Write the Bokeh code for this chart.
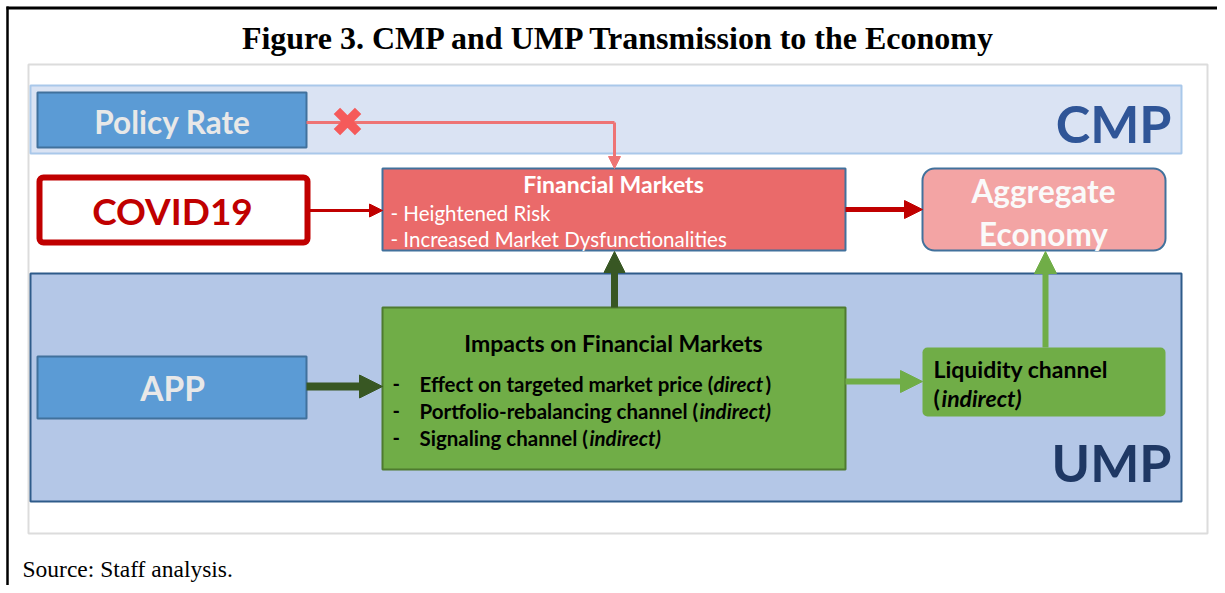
from bokeh.plotting import figure
from bokeh.models import Range1d, Arrow, NormalHead
from bokeh.core.properties import value
from bokeh.embed import file_html
from bokeh.resources import INLINE

# ---- content -------------------------------------------------------------
title = "Figure 3. CMP and UMP Transmission to the Economy"
source_note = "Source: Staff analysis."
band_labels = ["CMP", "UMP"]
box_labels = ["Policy Rate", "COVID19", "APP"]
fm_header = "Financial Markets"
fm_lines = ["- Heightened Risk", "- Increased Market Dysfunctionalities"]
agg_lines = ["Aggregate", "Economy"]
imp_header = "Impacts on Financial Markets"
imp_plain = ["Effect on targeted market price (", "Portfolio-rebalancing channel (", "Signaling channel ("]
imp_italic = ["direct", "indirect)", "indirect)"]
imp_tail = [")", "", ""]
liq_lines = ["Liquidity channel", "("]
liq_italic = ["indirect)"]

FONT = value("Lato")
SERIF = value("Liberation Serif")

p = figure(width=1217, height=585, x_range=Range1d(0, 1217), y_range=Range1d(585, 0),
           output_backend="svg", toolbar_location=None, min_border=0,
           x_axis_location=None, y_axis_location=None)
p.grid.visible = False
p.outline_line_color = None
p.background_fill_color = "white"
p.border_fill_color = "white"

# outer frame
p.segment(x0=[6], y0=[7.5], x1=[1217], y1=[7.5], line_color="black", line_width=3)
p.segment(x0=[7], y0=[6], x1=[7], y1=[585], line_color="black", line_width=2.5)

# light gray panel
p.quad(left=[28], right=[1207], top=[64], bottom=[533], fill_color="white",
       line_color="#dcdcdc", line_width=2)

# bands
p.quad(left=[30], right=[1181], top=[85], bottom=[153], fill_color="#dae3f3",
       line_color="#a9c8ea", line_width=2)
p.quad(left=[30], right=[1181], top=[273], bottom=[501], fill_color="#b4c7e7",
       line_color="#2e5b8a", line_width=2)

# blue boxes
p.quad(left=[37, 37], right=[306, 306], top=[92, 356], bottom=[147, 418],
       fill_color="#5b9bd5", line_color="#41719c", line_width=2)
# covid box
p.quad(left=[39], right=[307], top=[177], bottom=[242], fill_color="white",
       line_color="#c00000", line_width=6, border_radius=4)
# financial markets
p.quad(left=[382], right=[845], top=[168], bottom=[250], fill_color="#ea6a6a",
       line_color="#41719c", line_width=2)
# aggregate economy
p.quad(left=[922], right=[1165], top=[168], bottom=[250], fill_color="#f3a4a4",
       line_color="#41719c", line_width=2, border_radius=12)
# impacts
p.quad(left=[382], right=[845], top=[307], bottom=[469], fill_color="#70ad47",
       line_color="#4e7b2f", line_width=2)
# liquidity
p.quad(left=[922], right=[1165], top=[347], bottom=[416], fill_color="#70ad47",
       line_color=None, border_radius=5)


def arrow(x0, y0, x1, y1, color, width, head):
    dx, dy = x1 - x0, y1 - y0
    L = (dx * dx + dy * dy) ** 0.5
    bx, by = x1 - dx / L * (head - 1), y1 - dy / L * (head - 1)
    p.segment(x0=[x0], y0=[y0], x1=[bx], y1=[by], line_color=color, line_width=width)
    p.add_layout(Arrow(end=NormalHead(size=head, fill_color=color, line_color=color, line_width=1),
                       x_start=bx, y_start=by, x_end=x1, y_end=y1,
                       line_alpha=0, line_width=1))


# policy rate line (blocked)
p.segment(x0=[306], y0=[122], x1=[614], y1=[122], line_color="#ee7474", line_width=3)
arrow(614, 122, 614, 168, "#ee7474", 3, 12)
p.scatter(x=[347], y=[121], marker="x", size=30, line_color="#f55a5a", line_width=9)

arrow(307, 210, 382, 210, "#c00000", 3, 13)
arrow(845, 209, 922, 209, "#c00000", 5, 18)
arrow(306, 386, 382, 386, "#385723", 8, 23)
arrow(614, 307, 614, 251, "#385723", 7, 21)
arrow(845, 381, 922, 381, "#70ad47", 6, 22)
arrow(1045, 347, 1045, 251, "#70ad47", 6, 22)

# ---- texts ---------------------------------------------------------------
p.text(x=[619], y=[37], text=[title], text_font=SERIF, text_font_style="bold",
       text_font_size="32px", text_color="black", text_align="center", text_baseline="middle")
p.text(x=[22], y=[568], text=[source_note], text_font=SERIF, text_font_size="23.5px",
       text_color="black", text_align="left", text_baseline="middle")

p.text(x=[1171, 1171], y=[122, 461], text=band_labels, text_font=FONT, text_font_style="bold",
       text_font_size="52px", text_color=["#2f5597", "#1f3864"], text_align="right",
       text_baseline="middle")

p.text(x=[172, 172, 172], y=[121, 210, 387], text=box_labels, text_font=FONT,
       text_font_style="bold", text_font_size=["31.5px", "37px", "33.5px"],
       text_color=["#e8e8e8", "#c00000", "#e8e8e8"], text_align="center", text_baseline="middle")

p.text(x=[613], y=[183], text=[fm_header], text_font=FONT, text_font_style="bold",
       text_font_size="23px", text_color="white", text_align="center", text_baseline="middle")
p.text(x=[390, 390], y=[212, 238], text=fm_lines, text_font=FONT, text_font_size="20.5px",
       text_color="white", text_align="left", text_baseline="middle")

p.text(x=[1043, 1043], y=[190, 233], text=agg_lines, text_font=FONT, text_font_style="bold",
       text_font_size="31.5px", text_color="#fafafa", text_align="center", text_baseline="middle")

p.text(x=[613], y=[342], text=[imp_header], text_font=FONT, text_font_style="bold",
       text_font_size="23px", text_color="black", text_align="center", text_baseline="middle")
rows = [383, 410, 437]
p.text(x=[392] * 3, y=rows, text=["-"] * 3, text_font=FONT, text_font_style="bold",
       text_font_size="20px", text_color="black", text_align="left", text_baseline="middle")
p.text(x=[419] * 3, y=rows, text=imp_plain, text_font=FONT, text_font_style="bold",
       text_font_size="20.5px", text_color="black", text_align="left", text_baseline="middle")
p.text(x=[713, 699, 589], y=rows, text=imp_italic, text_font=FONT, text_font_style="bold italic",
       text_font_size="20.5px", text_color="black", text_align="left", text_baseline="middle")
p.text(x=[765], y=[383], text=[imp_tail[0]], text_font=FONT, text_font_style="bold",
       text_font_size="20.5px", text_color="black", text_align="left", text_baseline="middle")

p.text(x=[933, 933], y=[368, 397], text=liq_lines, text_font=FONT, text_font_style="bold",
       text_font_size="23px", text_color="black", text_align="left", text_baseline="middle")
p.text(x=[941], y=[397], text=liq_italic, text_font=FONT, text_font_style="bold italic",
       text_font_size="23px", text_color="black", text_align="left", text_baseline="middle")

open("out.html", "w").write(file_html(p, INLINE))
